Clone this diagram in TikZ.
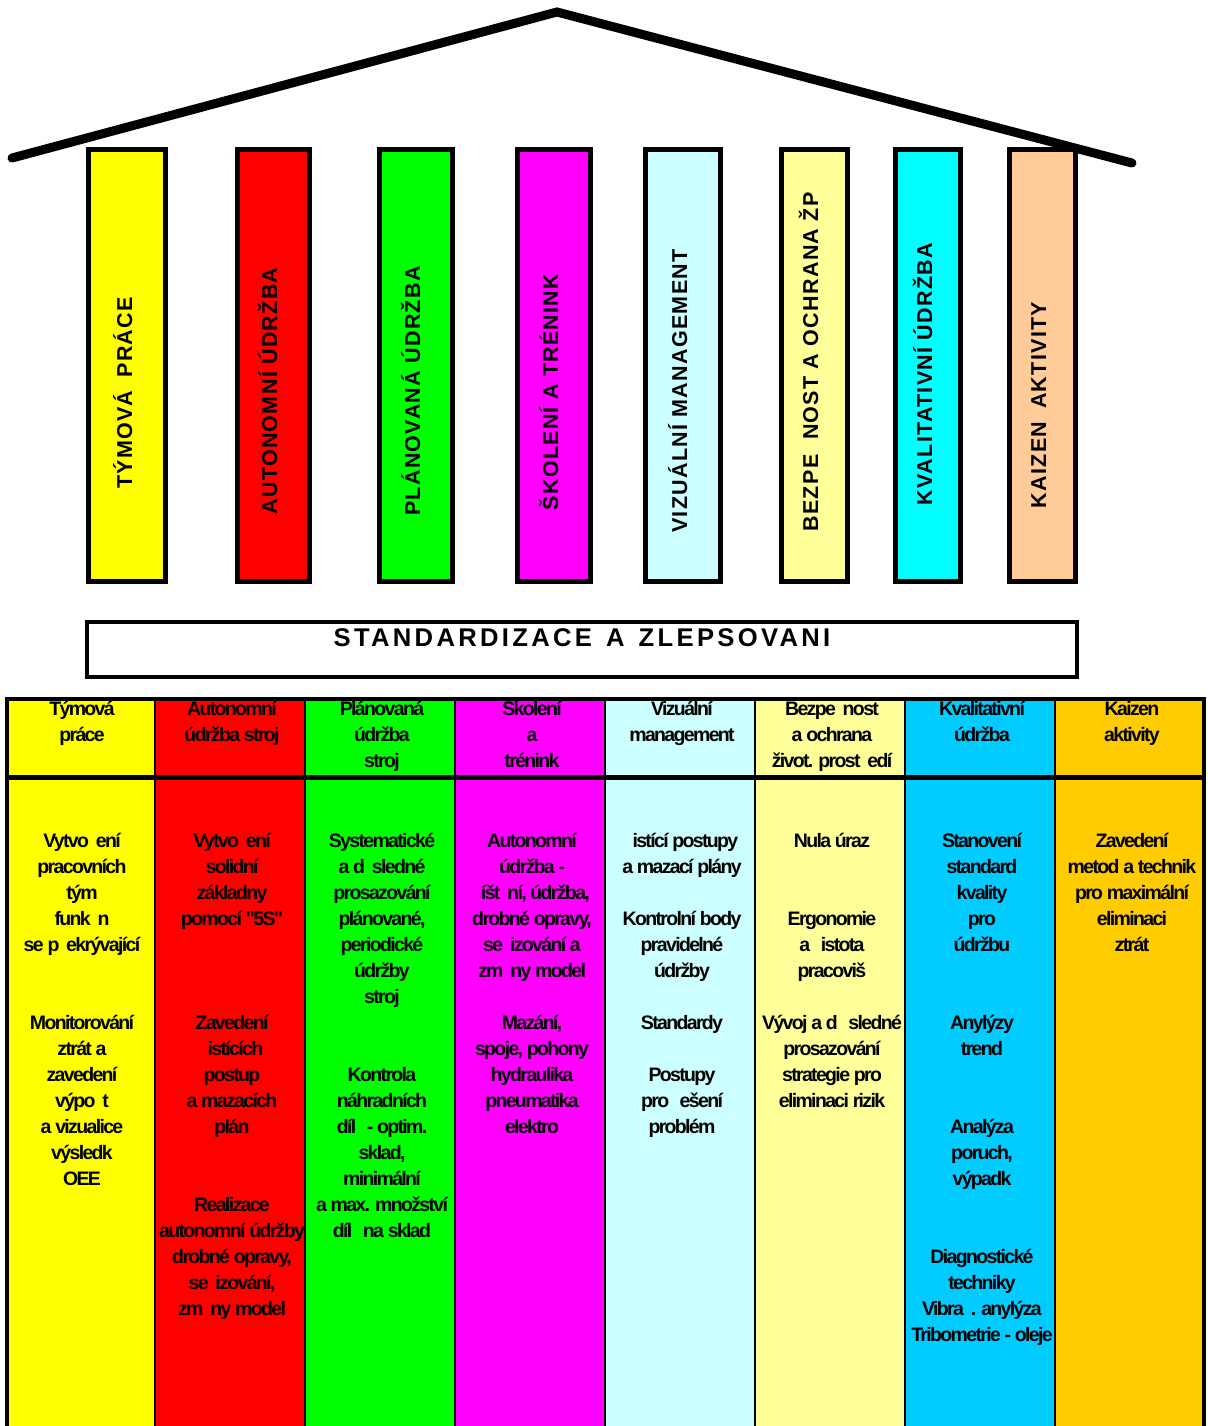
\documentclass[tikz,border=0pt]{standalone}
\usepackage{fontspec}
\setmainfont{Liberation Sans}
\newfontfamily\cellfont{Liberation Sans}[LetterSpace=-8.5]
\newfontfamily\pillarfont{Liberation Sans}[LetterSpace=6]
\newfontfamily\basefont{Liberation Sans}[LetterSpace=13]
% gap left by a glyph the original font could not show
\newcommand{\m}{\hspace{0.35em}}

\definecolor{cYellow}{HTML}{FFFF00}
\definecolor{cRed}{HTML}{FF0000}
\definecolor{cGreen}{HTML}{00FF00}
\definecolor{cMagenta}{HTML}{FF00FF}
\definecolor{cIce}{HTML}{CCFFFF}
\definecolor{cCream}{HTML}{FFFF99}
\definecolor{cAqua}{HTML}{00FFFF}
\definecolor{cPeach}{HTML}{FFCC99}
\definecolor{cSky}{HTML}{00CCFF}
\definecolor{cGold}{HTML}{FFCC00}

\tikzset{
  pillar/.style={draw=black, line width=2.5pt},
  pillarlabel/.style={rotate=90, anchor=base, inner sep=0pt,
    font=\pillarfont\bfseries\fontsize{10.75}{12}\selectfont},
  roof/.style={line width=4.5pt, line cap=round, line join=miter},
  basebox/.style={draw=black, line width=2pt},
  baselabel/.style={anchor=base, inner sep=0pt,
    font=\basefont\bfseries\fontsize{12.8}{14}\selectfont},
  celltext/.style={anchor=base, inner sep=0pt,
    font=\cellfont\bfseries\fontsize{9.75}{13}\selectfont},
  outerline/.style={line width=2pt},
  headrule/.style={line width=2.5pt},
  colrule/.style={line width=1.25pt},
}

\begin{document}
\begin{tikzpicture}[x=0.5pt,y=-0.5pt]
\useasboundingbox (0,0) rectangle (1207,1426);

% ---- pillars ----
\foreach \n/\xa/\xb/\col in {1/86/168/cYellow, 2/235/312/cRed, 3/377/455/cGreen,
    4/515/593/cMagenta, 5/643/723/cIce, 6/779/850/cCream, 7/893/963/cAqua,
    8/1007/1078/cPeach}
  \draw[pillar, fill=\col] ({\xa+2.5},149.5) rectangle ({\xb-2.5},581.5);

\node[pillarlabel] (p1) at (132,393) {TÝMOVÁ\hspace{0.6em}PRÁCE};
\node[pillarlabel] (p2) at (277,391) {AUTONOMNÍ ÚDRŽBA};
\node[pillarlabel] (p3) at (420,391) {PLÁNOVANÁ ÚDRŽBA};
\node[pillarlabel] (p4) at (558,392) {ŠKOLENÍ A TRÉNINK};
\node[pillarlabel] (p5) at (687,391) {VIZUÁLNÍ MANAGEMENT};
\node[pillarlabel] (p6) at (818,362) {BEZPE\m{} NOST A OCHRANA ŽP};
\node[pillarlabel] (p7) at (932,374) {KVALITATIVNÍ ÚDRŽBA};
\node[pillarlabel] (p8) at (1046,405) {KAIZEN\hspace{0.6em}AKTIVITY};

% ---- roof ----
\coordinate (roofL) at (12,158);
\coordinate (roofTop) at (557,12);
\coordinate (roofR) at (1132,163);
\draw[roof] (roofL) -- (roofTop) -- (roofR);

% ---- base ----
\draw[basebox] (87,622) rectangle (1077,677);
\node[baselabel] (base) at (582,646) {STANDARDIZACE\hspace{0.55em}A\hspace{0.55em}ZLEPSOVANI};

% ---- table fills ----
\foreach \i/\col in {0/cYellow, 1/cRed, 2/cGreen, 3/cMagenta, 4/cIce, 5/cCream, 6/cSky, 7/cGold}
  \fill[\col] ({5+150*\i},699) rectangle ({155+150*\i},1426);

% ---- headers ----
\foreach \x/\a/\b/\c [count=\n] in {82/Týmová/práce/{}, 232/Autonomní/{údržba stroj\m}/{},
    382/Plánovaná/údržba/{stroj\m}, 532/Skolení/a/trénink, 682/Vizuální/management/{},
    832/{Bezpe\m nost}/{a ochrana}/{život. prost\m edí}, 982/Kvalitativní/údržba/{},
    1132/Kaizen/aktivity/{}}
{
  \node[celltext] (h\n a) at (\x,715) {\a};
  \node[celltext] (h\n b) at (\x,741) {\b};
  \node[celltext] (h\n c) at (\x,767) {\c};
}

% ---- body texts: line k sits on baseline 847+26k ----
\foreach \k/\t in {0/{Vytvo\m ení}, 1/pracovních, 2/{tým\m}, 3/{funk\m n\m},
    4/{se p\m ekrývající}, 7/Monitorování, 8/{ztrát a}, 9/zavedení, 10/{výpo\m t\m},
    11/{a vizualice}, 12/{výsledk\m}, 13/OEE}
  \node[celltext] (a\k) at (82,{847+26*\k}) {\t};

\foreach \k/\t in {0/{Vytvo\m ení}, 1/solidní, 2/základny, 3/{pomocí "5S"},
    7/Zavedení, 8/{\m istících}, 9/{postup\m}, 10/{a mazacích}, 11/{plán\m},
    14/Realizace, 15/{autonomní údržby}, 16/{drobné opravy,}, 17/{se\m izování,},
    18/{zm\m ny model\m}}
  \node[celltext] (b\k) at (232,{847+26*\k}) {\t};

\foreach \k/\t in {0/Systematické, 1/{a d\m sledné}, 2/prosazování, 3/{plánované,},
    4/periodické, 5/údržby, 6/{stroj\m}, 9/Kontrola, 10/náhradních,
    11/{díl\m{} - optim.}, 12/{sklad,}, 13/minimální, 14/{a max. množství},
    15/{díl\m{} na sklad}}
  \node[celltext] (c\k) at (382,{847+26*\k}) {\t};

\foreach \k/\t in {0/Autonomní, 1/{údržba -}, 2/{\m íšt\m ní, údržba,},
    3/{drobné opravy,}, 4/{se\m izování a}, 5/{zm\m ny model\m}, 7/{Mazání,},
    8/{spoje, pohony}, 9/hydraulika, 10/pneumatika, 11/elektro}
  \node[celltext] (d\k) at (532,{847+26*\k}) {\t};

\foreach \k/\t in {0/{\m istící postupy}, 1/{a mazací plány}, 3/{Kontrolní body},
    4/pravidelné, 5/údržby, 7/Standardy, 9/Postupy, 10/{pro \m ešení}, 11/{problém\m}}
  \node[celltext] (e\k) at (682,{847+26*\k}) {\t};

\foreach \k/\t in {0/{Nula úraz\m}, 3/Ergonomie, 4/{a \m istota}, 5/{pracoviš\m},
    7/{Vývoj a d\m{} sledné}, 8/prosazování, 9/{strategie pro}, 10/{eliminaci rizik}}
  \node[celltext] (f\k) at (832,{847+26*\k}) {\t};

\foreach \k/\t in {0/Stanovení, 1/{standard\m}, 2/kvality, 3/pro, 4/údržbu,
    7/Anylýzy, 8/{trend\m}, 11/Analýza, 12/{poruch,}, 13/{výpadk\m},
    16/Diagnostické, 17/techniky, 18/{Vibra\m . anylýza}, 19/{Tribometrie - oleje}}
  \node[celltext] (g\k) at (982,{847+26*\k}) {\t};

\foreach \k/\t in {0/Zavedení, 1/{metod a technik}, 2/{pro maximální}, 3/eliminaci, 4/ztrát}
  \node[celltext] (h\k) at (1132,{847+26*\k}) {\t};

% ---- table rules ----
\foreach \i in {1,...,7}
  \draw[colrule] ({5+150*\i},699) -- ({5+150*\i},1426);
\draw[headrule] (6.5,777) -- (1204,777);
\draw[outerline] (6.5,1426) -- (6.5,699) -- (1204,699) -- (1204,1426);
\end{tikzpicture}
\end{document}
